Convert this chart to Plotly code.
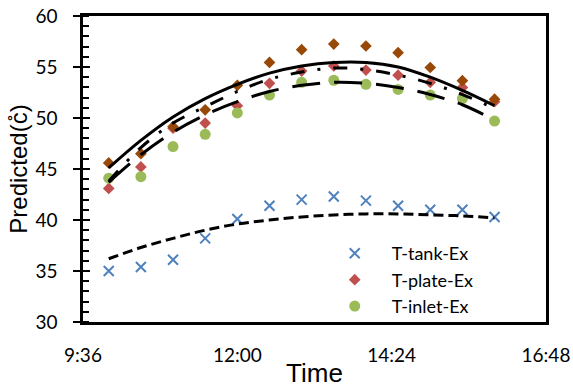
import plotly.graph_objects as go

times = ["10:00", "10:30", "11:00", "11:30", "12:00", "12:30", "13:00",
         "13:30", "14:00", "14:30", "15:00", "15:30", "16:00"]
tank = [35.0, 35.4, 36.1, 38.2, 40.1, 41.4, 42.0, 42.3, 41.9, 41.4, 41.0, 41.0, 40.3]
plate = [43.1, 45.2, 49.0, 49.5, 51.2, 53.4, 54.6, 55.1, 54.7, 54.2, 53.5, 53.0, 51.6]
inlet = [44.1, 44.25, 47.2, 48.4, 50.5, 52.25, 53.5, 53.7, 53.3, 52.8, 52.25, 51.9, 49.7]
series4 = [45.6, 46.5, 49.15, 50.8, 53.2, 55.45, 56.7, 57.25, 57.06, 56.4, 54.95, 53.66, 51.85]

pred_tank = [36.2, 37.3, 38.2, 39.0, 39.6, 40.0, 40.3, 40.5, 40.6, 40.6, 40.5, 40.4, 40.2]
pred_solid = [45.1, 47.8, 50.1, 51.9, 53.3, 54.4, 55.1, 55.45, 55.45, 55.0, 54.0, 52.7, 51.2]
pred_plate = [43.8, 47.1, 49.5, 51.1, 52.6, 53.8, 54.5, 54.9, 54.75, 54.2, 53.4, 52.3, 50.95]
pred_inlet = [43.7, 46.4, 48.6, 50.3, 51.6, 52.6, 53.2, 53.5, 53.4, 53.0, 52.3, 51.3, 49.8]

x = ["2000-01-01 " + t for t in times]

TICKFONT = dict(family="Lato", size=19, color="#000")
fig = go.Figure()

fig.add_trace(go.Scatter(x=x, y=tank, mode="markers", name="T-tank-Ex",
                         marker=dict(symbol="x-thin", size=10, color="#4F81BD",
                                     line=dict(width=2, color="#4F81BD"))))
fig.add_trace(go.Scatter(x=x, y=plate, mode="markers", name="T-plate-Ex",
                         marker=dict(symbol="diamond", size=9, color="#C0504D")))
fig.add_trace(go.Scatter(x=x, y=inlet, mode="markers", name="T-inlet-Ex",
                         marker=dict(symbol="circle", size=11, color="#9BBB59")))
fig.add_trace(go.Scatter(x=x, y=series4, mode="markers", name="Series4", showlegend=False,
                         marker=dict(symbol="diamond", size=9, color="#984807")))

line_specs = [
    (pred_tank, "10px,5px"),
    (pred_solid, "solid"),
    (pred_plate, "14px,13px,3px,13px"),
    (pred_inlet, "28px,14px"),
]
for vals, dash in line_specs:
    fig.add_trace(go.Scatter(x=x, y=vals, mode="lines", showlegend=False, hoverinfo="skip",
                             line=dict(color="#000", width=3, dash=dash,
                                       shape="spline", smoothing=1)))

# invisible trace for the inward half of major y ticks
fig.add_trace(go.Scatter(x=[x[0]], y=[30], yaxis="y2", mode="markers",
                         marker=dict(opacity=0), showlegend=False, hoverinfo="skip"))

fig.update_layout(
    width=573, height=390,
    margin=dict(l=83, r=27, t=16, b=68),
    paper_bgcolor="white", plot_bgcolor="white",
    showlegend=True,
    legend=dict(x=0.507, y=0.284, xanchor="left", yanchor="top",
                bgcolor="rgba(0,0,0,0)", font=dict(family="Lato", size=18, color="#000"),
                itemwidth=64, tracegroupgap=0),
    xaxis=dict(type="date", automargin=False,
               range=["2000-01-01 09:36", "2000-01-01 16:48"],
               tick0="2000-01-01 09:36", dtick=8640000, tickformat="%-H:%M",
               showline=True, linecolor="#000", linewidth=2.5, mirror=True,
               ticks="", showgrid=False, zeroline=False,
               tickfont=TICKFONT, ticklabelstandoff=14,
               title=dict(text="Time", font=dict(family="Liberation Sans", size=26, color="#000"),
                          standoff=0)),
    yaxis=dict(range=[30, 60], dtick=5, tick0=30, automargin=False,
               showline=True, linecolor="#000", linewidth=2.5, mirror=True,
               ticks="outside", ticklen=7, tickwidth=2, tickcolor="#000",
               minor=dict(dtick=1, ticks="inside", ticklen=6, tickwidth=2, tickcolor="#000"),
               showgrid=False, zeroline=False,
               tickfont=TICKFONT, ticklabelstandoff=12,
               title=dict(text="Predicted(c\u030a)",
                          font=dict(family="Liberation Sans", size=24, color="#000"),
                          standoff=2)),
    yaxis2=dict(range=[30, 60], dtick=5, tick0=30, overlaying="y", side="left",
                automargin=False,
                ticks="inside", ticklen=7, tickwidth=2, tickcolor="#000",
                showticklabels=False, showgrid=False, zeroline=False, showline=False),
)

fig.write_html("out.html")
